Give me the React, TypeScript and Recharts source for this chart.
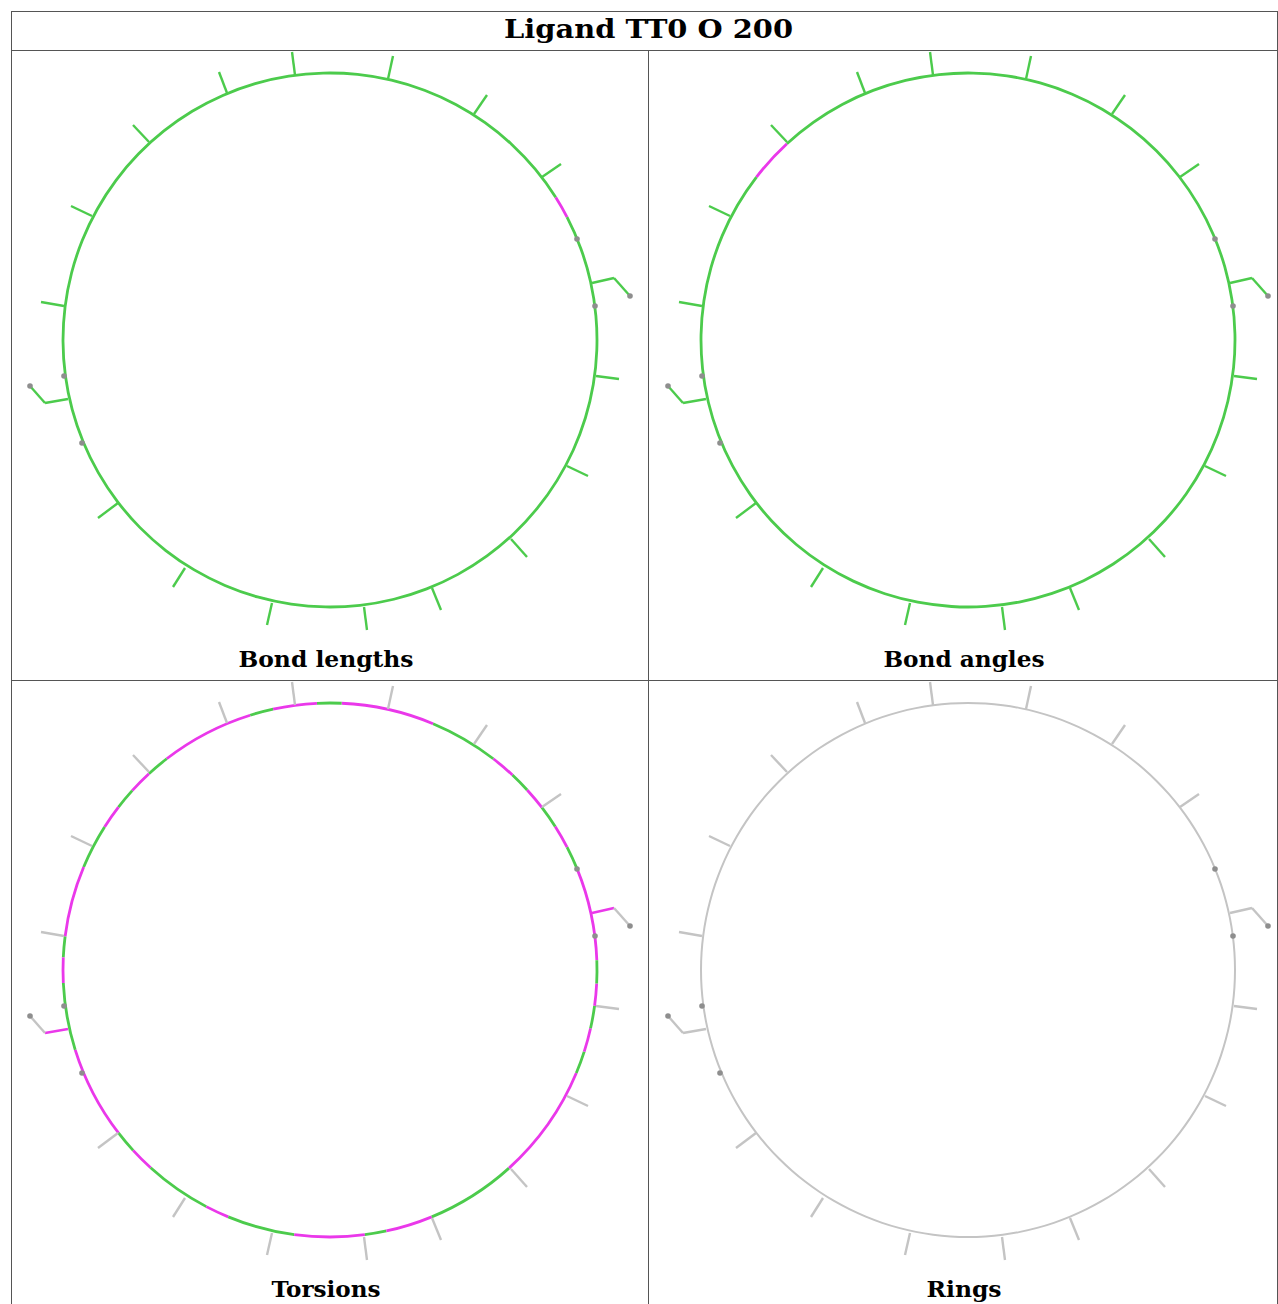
import React from 'react';
import { PieChart, Pie, Cell, ScatterChart, Scatter, XAxis, YAxis } from 'recharts';

const TITLE = 'Ligand TT0 O 200';

const GREEN = '#4ccb4c';
const MAGENTA = '#ea38ea';
const LIGHT = '#c4c4c4';
const DOT = '#8e8e8e';
const FRAME = '#555555';

const FLAG_COLORS: Record<string, string> = { ok: GREEN, bad: MAGENTA, none: LIGHT };

// bonds leaving the ring: [x1, y1, x2, y2], px from ring centre, y up
const TICKS: [number, number, number, number][] = [
  [-35, 265, -38, 288],
  [-103, 247, -111, 268],
  [-181, 198, -197, 215],
  [-238, 124, -259, 134],
  [-266, 34, -289, 38],
  [58, 261, 63, 284],
  [144, 226, 157, 245],
  [212, 163, 231, 176],
  [266, -36, 289, -39],
  [237, -126, 258, -136],
  [181, -199, 197, -217],
  [102, -248, 111, -270],
  [34, -267, 37, -290],
  [-212, -163, -232, -178],
  [-145, -228, -157, -247],
  [-58, -263, -63, -285],
];

// side chains: first bond, second bond
const BRANCH_FIRST: [number, number][][] = [
  [[262, 57], [284, 62]],
  [[-262, -59], [-285, -63]],
];
const BRANCH_SECOND: [number, number][][] = [
  [[284, 62], [300, 44]],
  [[-285, -63], [-300, -46]],
];

const ATOM_DOTS: [number, number][] = [
  [247, 101],
  [265, 34],
  [-266, -36],
  [-248, -103],
  [300, 44],
  [-300, -46],
];

// ring colour changes, degrees counter-clockwise from 3 o'clock
const LENGTH_BREAKS = [27.4, 32.3];
const LENGTH_FLAGS = ['bad', 'ok'];

const ANGLE_BREAKS = [132.7, 142.4];
const ANGLE_FLAGS = ['bad', 'ok'];

const TORSION_BREAKS = [
  2.1, 22.2, 27.4, 32.5, 37.5, 42.4, 46.9, 52.3, 67.3, 87.5, 92.8, 102.3, 107.4, 127.7, 132.7, 137.8, 142.4,
  147.6, 157.3, 172.8, 177.3, 182.8, 197.4, 217.6, 222.5, 227.8, 242.4, 247.6, 262.3, 277.5, 282.2, 292.4,
  312.1, 337.3, 342.2, 347.4, 352.3, 357.1,
];
const TORSION_FLAGS = [
  'bad', 'ok', 'bad', 'ok', 'bad', 'ok', 'bad', 'ok', 'bad', 'ok', 'bad', 'ok', 'bad', 'ok', 'bad', 'ok', 'bad',
  'ok', 'bad', 'ok', 'bad', 'ok', 'bad', 'ok', 'bad', 'ok', 'bad', 'ok', 'bad', 'ok', 'bad', 'ok',
  'bad', 'ok', 'bad', 'ok', 'bad', 'ok',
];

const RING_BREAKS = [0];
const RING_FLAGS = ['none'];

const CX = 318;
const CY = 289;

type PanelDef = {
  title: string;
  titleWidth: number;
  breaks: number[];
  flags: string[];
  tick: string;
  first: string;
  second: string;
  ringWidth: number;
  left: number;
  top: number;
  width: number;
  height: number;
};

const PANELS: PanelDef[] = [
  { title: 'Bond lengths', titleWidth: 175, breaks: LENGTH_BREAKS, flags: LENGTH_FLAGS, tick: GREEN, first: GREEN, second: GREEN, ringWidth: 2.8, left: 12, top: 51, width: 636, height: 628 },
  { title: 'Bond angles', titleWidth: 161, breaks: ANGLE_BREAKS, flags: ANGLE_FLAGS, tick: GREEN, first: GREEN, second: GREEN, ringWidth: 2.8, left: 650, top: 51, width: 627, height: 628 },
  { title: 'Torsions', titleWidth: 109, breaks: TORSION_BREAKS, flags: TORSION_FLAGS, tick: LIGHT, first: MAGENTA, second: LIGHT, ringWidth: 2.8, left: 12, top: 681, width: 636, height: 623 },
  { title: 'Rings', titleWidth: 75, breaks: RING_BREAKS, flags: RING_FLAGS, tick: LIGHT, first: LIGHT, second: LIGHT, ringWidth: 2.0, left: 650, top: 681, width: 627, height: 623 },
];

const NoMark = () => <g />;

const AtomDot = (props: any) => <circle cx={props.cx} cy={props.cy} r={2.8} fill={DOT} />;

function Panel({ p }: { p: PanelDef }) {
  const arcs = p.breaks.map((b, i) => {
    const next = i + 1 < p.breaks.length ? p.breaks[i + 1] : p.breaks[0] + 360;
    return { span: next - b, flag: p.flags[i] };
  });
  const W = p.width;
  const H = p.height;
  const noMargin = { top: 0, right: 0, bottom: 0, left: 0 };

  return (
    <div style={{ position: 'absolute', left: p.left, top: p.top, width: W, height: H }}>
      <div style={{ position: 'absolute', left: 0, top: 0 }}>
        <PieChart width={W} height={H} margin={noMargin}>
          <Pie
            data={arcs}
            dataKey="span"
            cx={CX}
            cy={CY}
            innerRadius={267 - p.ringWidth / 2}
            outerRadius={267 + p.ringWidth / 2}
            startAngle={p.breaks[0]}
            endAngle={p.breaks[0] + 360}
            stroke="none"
            isAnimationActive={false}
          >
            {arcs.map((a, i) => (
              <Cell key={`arc-${i}`} fill={FLAG_COLORS[a.flag]} stroke="none" />
            ))}
          </Pie>
        </PieChart>
      </div>
      <div style={{ position: 'absolute', left: 0, top: 0 }}>
        <ScatterChart width={W} height={H} margin={noMargin}>
          <XAxis type="number" dataKey="x" domain={[-CX, W - CX]} allowDataOverflow hide />
          <YAxis type="number" dataKey="y" domain={[CY - H, CY]} allowDataOverflow hide />
          {TICKS.map((t, i) => (
            <Scatter
              key={`tick-${i}`}
              data={[{ x: t[0], y: t[1] }, { x: t[2], y: t[3] }]}
              fill={p.tick}
              line={{ stroke: p.tick, strokeWidth: 2.4 }}
              shape={NoMark}
              isAnimationActive={false}
            />
          ))}
          {BRANCH_FIRST.map((b, i) => (
            <Scatter
              key={`b1-${i}`}
              data={b.map(([x, y]) => ({ x, y }))}
              fill={p.first}
              line={{ stroke: p.first, strokeWidth: 2.4 }}
              shape={NoMark}
              isAnimationActive={false}
            />
          ))}
          {BRANCH_SECOND.map((b, i) => (
            <Scatter
              key={`b2-${i}`}
              data={b.map(([x, y]) => ({ x, y }))}
              fill={p.second}
              line={{ stroke: p.second, strokeWidth: 2.4 }}
              shape={NoMark}
              isAnimationActive={false}
            />
          ))}
          <Scatter
            data={ATOM_DOTS.map(([x, y]) => ({ x, y }))}
            fill={DOT}
            shape={AtomDot}
            isAnimationActive={false}
          />
        </ScatterChart>
      </div>
    </div>
  );
}

export default function App() {
  const font = '"DejaVu Serif", serif';
  return (
    <div style={{ position: 'absolute', left: 0, top: 0, width: 1278, height: 1304, overflow: 'hidden', background: '#fff' }}>
      <svg width={1278} height={1304} style={{ position: 'absolute', left: 0, top: 0 }}>
        <line x1={11} y1={11.5} x2={1278} y2={11.5} stroke={FRAME} />
        <line x1={11.5} y1={11} x2={11.5} y2={1304} stroke={FRAME} />
        <line x1={1277.5} y1={11} x2={1277.5} y2={1304} stroke={FRAME} />
        <line x1={11} y1={50.5} x2={1278} y2={50.5} stroke={FRAME} />
        <line x1={648.5} y1={50} x2={648.5} y2={1304} stroke={FRAME} />
        <line x1={11} y1={680.5} x2={1278} y2={680.5} stroke={FRAME} />
        <text x={648.5} y={38} textAnchor="middle" fontFamily={font} fontWeight="bold" fontSize={26} textLength={289} lengthAdjust="spacingAndGlyphs">
          {TITLE}
        </text>
        {PANELS.map((p) => (
          <text
            key={p.title}
            x={p.left + CX - 4}
            y={p.top + 616}
            textAnchor="middle"
            fontFamily={font}
            fontWeight="bold"
            fontSize={22}
            textLength={p.titleWidth}
            lengthAdjust="spacingAndGlyphs"
          >
            {p.title}
          </text>
        ))}
      </svg>
      {PANELS.map((p) => (
        <Panel key={p.title} p={p} />
      ))}
    </div>
  );
}
